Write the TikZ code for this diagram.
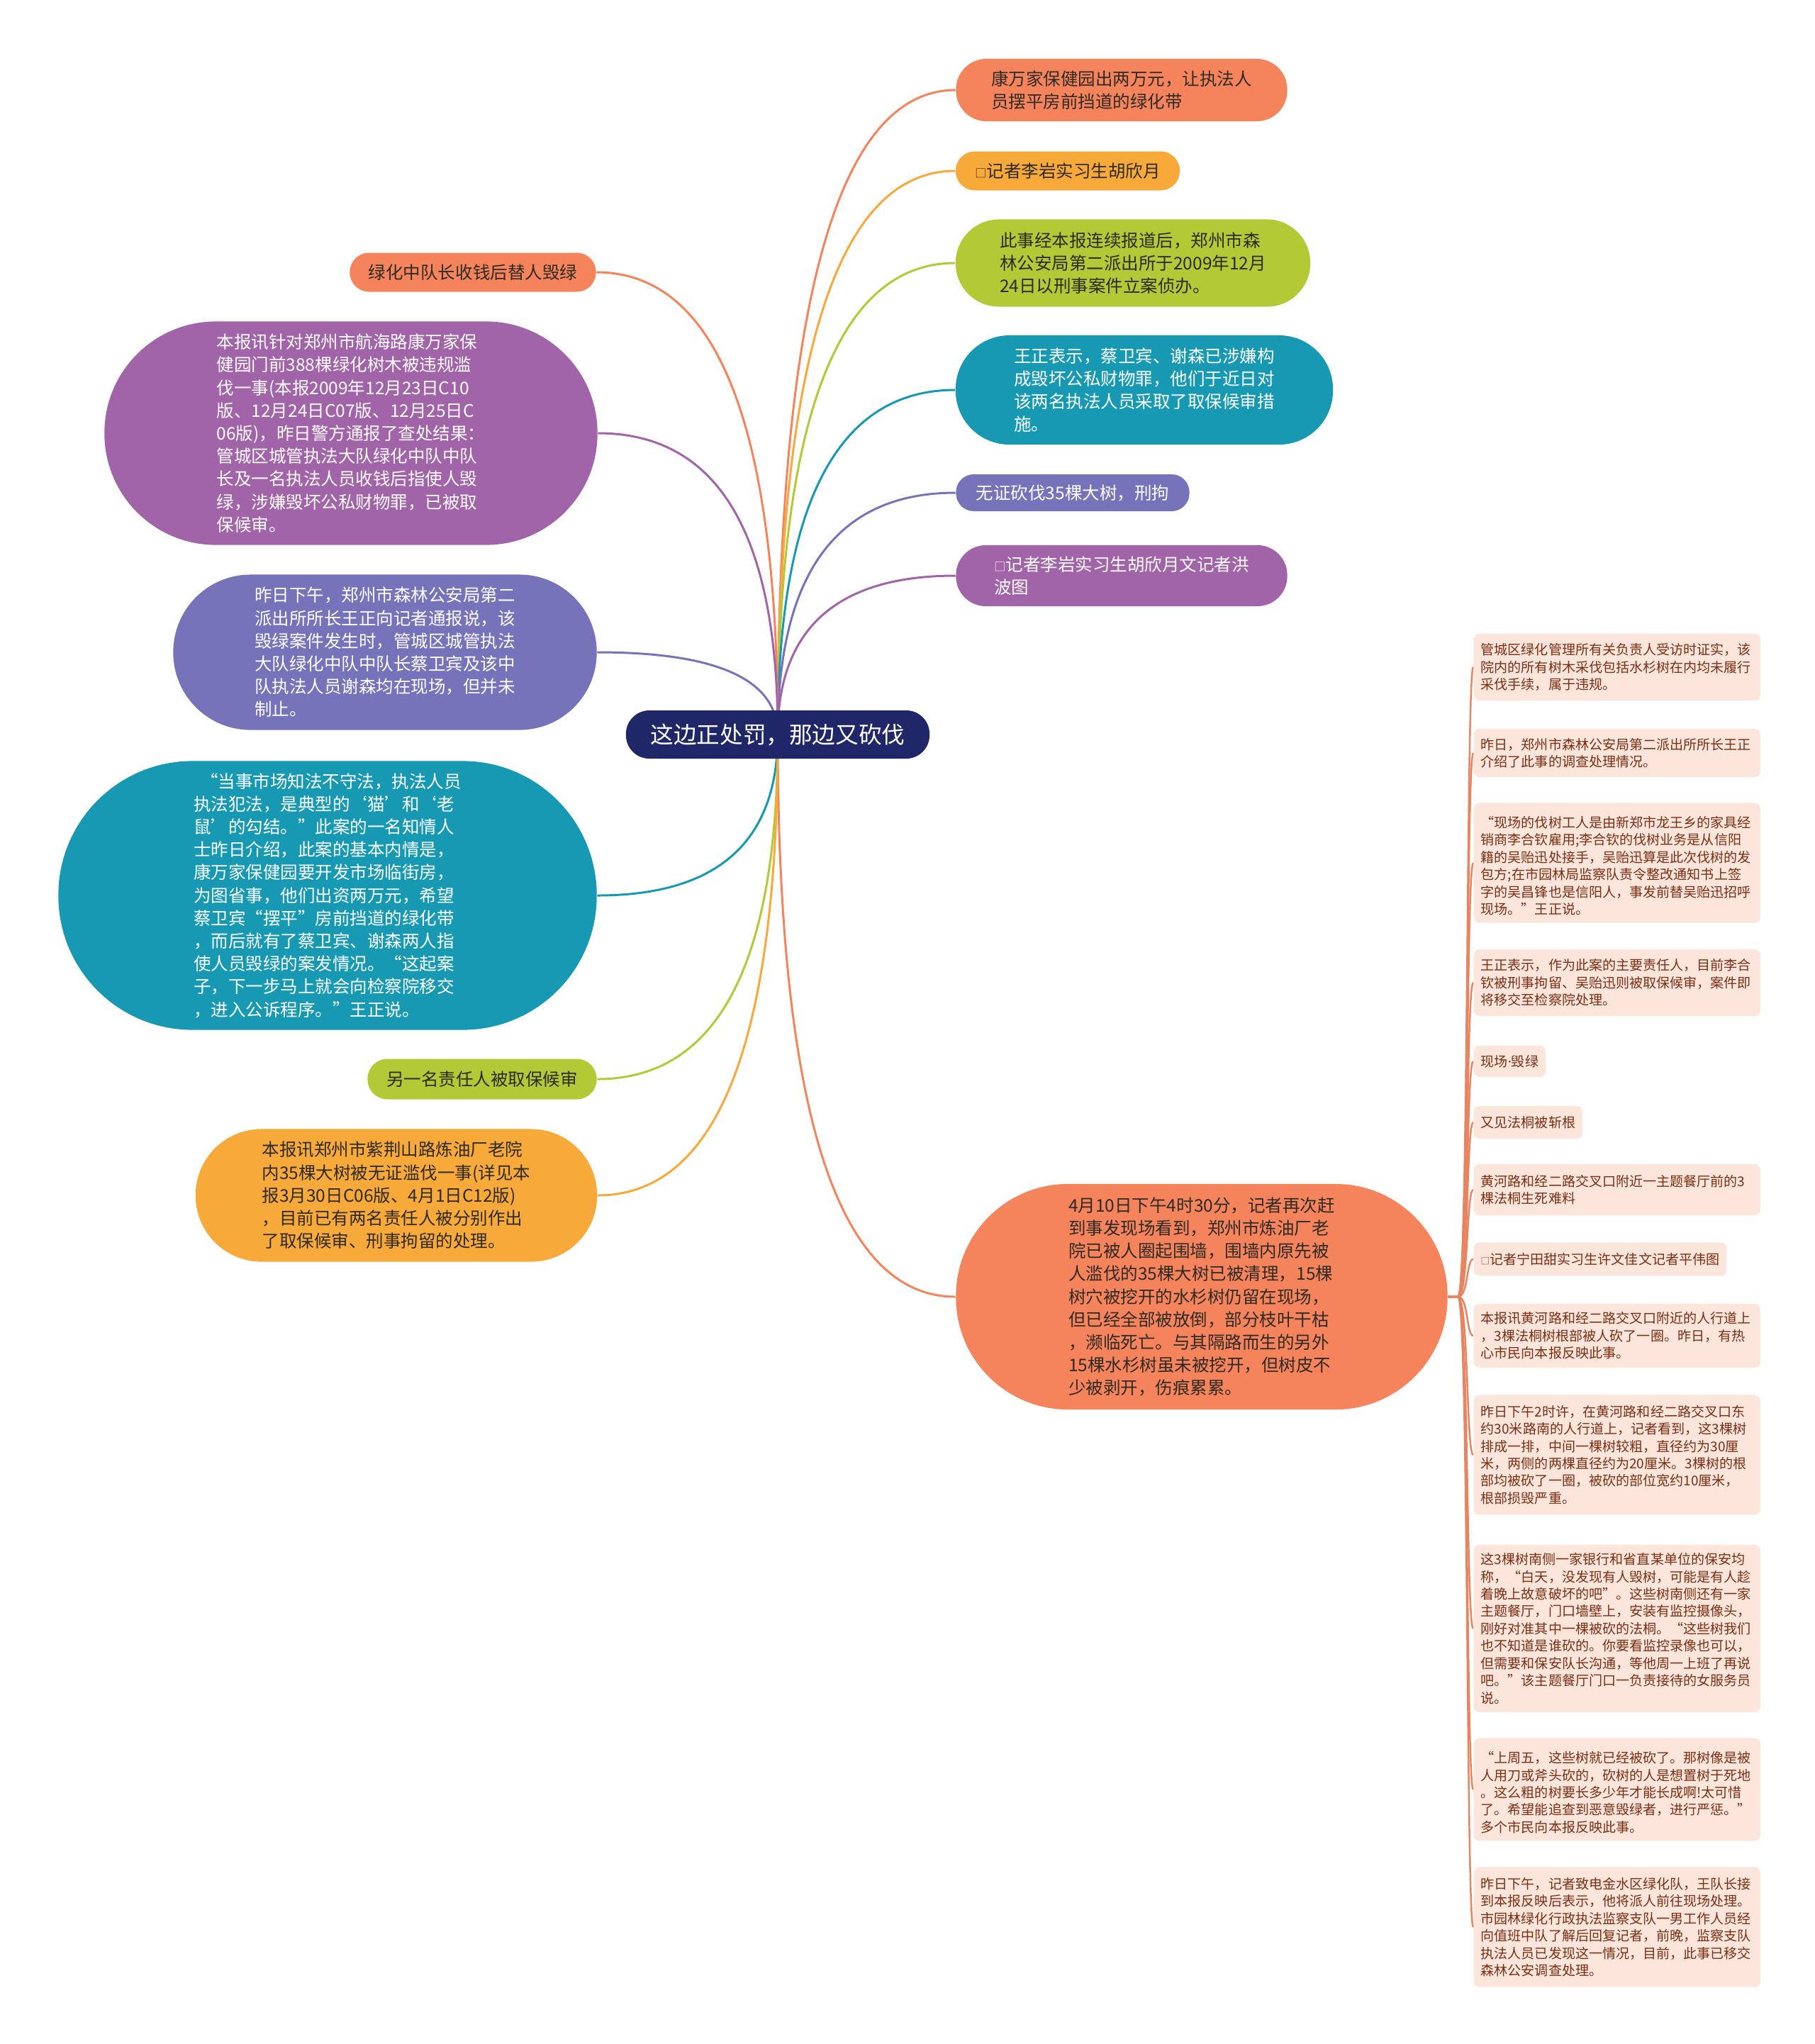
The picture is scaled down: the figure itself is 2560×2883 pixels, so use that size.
\documentclass[tikz,border=0pt]{standalone}
\usepackage{fontspec}
\setmainfont{Noto Sans CJK SC}
\newfontfamily\latinf{Noto Sans}
\usetikzlibrary{calc}
\definecolor{cOr}{HTML}{F5845C}
\definecolor{cYe}{HTML}{F7A93A}
\definecolor{cGr}{HTML}{B3C935}
\definecolor{cTe}{HTML}{1799B4}
\definecolor{cBp}{HTML}{7673BB}
\definecolor{cPu}{HTML}{A264A8}
\definecolor{cNv}{HTML}{202768}
\definecolor{cSub}{HTML}{FCE6DC}
\definecolor{cSubT}{HTML}{7A2E14}
\definecolor{cSubL}{HTML}{E8845F}
\definecolor{cDark}{HTML}{2E2A26}
\pgfdeclarelayer{bg}
\pgfsetlayers{bg,main}
\newcommand{\smallbox}{{\fontsize{4.6pt}{4.6pt}\selectfont □}}
\newcommand{\smallboxs}{{\fontsize{3.6pt}{3.6pt}\selectfont □}}
\newcommand{\qlinkR}[2]{\draw[conn,draw=#1] (o) .. controls ($(o)!0.667!(o|-#2.west)$) and ($(#2.west)!0.667!(o|-#2.west)$) .. (#2.west);}
\newcommand{\qlinkL}[2]{\draw[conn,draw=#1] (o) .. controls ($(o)!0.667!(o|-#2.east)$) and ($(#2.east)!0.667!(o|-#2.east)$) .. (#2.east);}
\newcommand{\slink}[1]{\draw[subconn] (n13.east) -- ($(n13.east)+(14,0)$) .. controls ($(n13.east)+(29,0)$) and ($(#1.west)+(-10,0)$) .. (#1.west);}
\tikzset{
  mn/.style n args={3}{minimum width=#1cm, minimum height=#2cm, rounded corners=#3cm,
    inner sep=0pt, align=left, font=\fontsize{6.97pt}{9.16pt}\selectfont},
  sb/.style={fill=cSub, text=cSubT, rounded corners=0.08cm, inner xsep=0.1cm, inner ysep=0pt,
    anchor=west, align=left, font=\fontsize{5.42pt}{6.95pt}\selectfont},
  sbw/.style={sb, text width=3.84cm},
  conn/.style={line width=0.85pt},
  subconn/.style={line width=0.7pt, draw=cSubL},
}
\begin{document}
\begin{tikzpicture}[x=0.01cm, y=-0.01cm]
\useasboundingbox (0,0) rectangle (2560,2883);

% root
\node[fill=cNv, text=white, minimum width=4.28cm, minimum height=0.68cm, rounded corners=0.33cm,
  inner sep=0pt, font=\fontsize{9.28pt}{11pt}\selectfont] (root) at (1097,1036) {这边正处罚，那边又砍伐};
\coordinate (o) at (1097,1036);

% right branches
\node[mn={4.67}{0.88}{0.43}, fill=cOr, text=cDark] (n1) at (1582,127)
  {康万家保健园出两万元，让执法人\\员摆平房前挡道的绿化带};
\node[mn={3.16}{0.55}{0.27}, fill=cYe, text=cDark] (n2) at (1506,241)
  {\smallbox 记者李岩实习生胡欣月};
\node[mn={5.00}{1.23}{0.61}, fill=cGr, text=cDark] (n3) at (1598,371)
  {此事经本报连续报道后，郑州市森\\林公安局第二派出所于2009年12月\\24日以刑事案件立案侦办。};
\node[mn={5.32}{1.54}{0.76}, fill=cTe, text=white] (n4) at (1614,550)
  {王正表示，蔡卫宾、谢森已涉嫌构\\成毁坏公私财物罪，他们于近日对\\该两名执法人员采取了取保候审措\\施。};
\node[mn={3.29}{0.52}{0.25}, fill=cBp, text=white] (n5) at (1513,695)
  {无证砍伐35棵大树，刑拘};
\node[mn={4.67}{0.86}{0.42}, fill=cPu, text=white] (n6) at (1582,812)
  {\smallbox 记者李岩实习生胡欣月文记者洪\\波图};

% left branches
\node[mn={3.47}{0.55}{0.27}, fill=cOr, text=cDark] (n7) at (667,384)
  {绿化中队长收钱后替人毁绿};
\node[mn={6.95}{3.15}{1.57}, fill=cPu, text=white] (n8) at (495,611)
  {本报讯针对郑州市航海路康万家保\\健园门前388棵绿化树木被违规滥\\伐一事(本报2009年12月23日C10\\版、12月24日C07版、12月25日C\\06版)，昨日警方通报了查处结果：\\管城区城管执法大队绿化中队中队\\长及一名执法人员收钱后指使人毁\\绿，涉嫌毁坏公私财物罪，已被取\\保候审。};
\node[mn={5.97}{2.19}{1.09}, fill=cBp, text=white] (n9) at (543,920)
  {昨日下午，郑州市森林公安局第二\\派出所所长王正向记者通报说，该\\毁绿案件发生时，管城区城管执法\\大队绿化中队中队长蔡卫宾及该中\\队执法人员谢森均在现场，但并未\\制止。};
\node[mn={7.59}{3.79}{1.89}, fill=cTe, text=white] (n10) at (462,1263)
  {\hspace{0.4em}“当事市场知法不守法，执法人员\\执法犯法，是典型的‘猫’和‘老\\鼠’的勾结。”此案的一名知情人\\士昨日介绍，此案的基本内情是，\\康万家保健园要开发市场临街房，\\为图省事，他们出资两万元，希望\\蔡卫宾“摆平”房前挡道的绿化带\\，而后就有了蔡卫宾、谢森两人指\\使人员毁绿的案发情况。“这起案\\子，下一步马上就会向检察院移交\\，进入公诉程序。”王正说。};
\node[mn={3.23}{0.57}{0.28}, fill=cGr, text=cDark] (n11) at (680,1522)
  {另一名责任人被取保候审};
\node[mn={5.66}{1.87}{0.93}, fill=cYe, text=cDark] (n12) at (559,1686)
  {本报讯郑州市紫荆山路炼油厂老院\\内35棵大树被无证滥伐一事(详见本\\报3月30日C06版、4月1日C12版)\\，目前已有两名责任人被分别作出\\了取保候审、刑事拘留的处理。};

% big right-bottom node
\node[mn={6.93}{3.18}{1.58}, fill=cOr, text=cDark] (n13) at (1695,1829)
  {4月10日下午4时30分，记者再次赶\\到事发现场看到，郑州市炼油厂老\\院已被人圈起围墙，围墙内原先被\\人滥伐的35棵大树已被清理，15棵\\树穴被挖开的水杉树仍留在现场，\\但已经全部被放倒，部分枝叶干枯\\，濒临死亡。与其隔路而生的另外\\15棵水杉树虽未被挖开，但树皮不\\少被剥开，伤痕累累。};

% sub nodes
\node[sbw, minimum height=0.94cm] (sa) at (2078,941)
  {管城区绿化管理所有关负责人受访时证实，该\\院内的所有树木采伐包括水杉树在内均未履行\\采伐手续，属于违规。};
\node[sbw, minimum height=0.68cm] (sb) at (2078,1062)
  {昨日，郑州市森林公安局第二派出所所长王正\\介绍了此事的调查处理情况。};
\node[sbw, minimum height=1.69cm] (sc) at (2078,1217)
  {\hspace{0.4em}“现场的伐树工人是由新郑市龙王乡的家具经\\销商李合钦雇用;李合钦的伐树业务是从信阳\\籍的吴贻迅处接手，吴贻迅算是此次伐树的发\\包方;在市园林局监察队责令整改通知书上签\\字的吴昌锋也是信阳人，事发前替吴贻迅招呼\\现场。”王正说。};
\node[sbw, minimum height=0.94cm] (sd) at (2078,1386)
  {王正表示，作为此案的主要责任人，目前李合\\钦被刑事拘留、吴贻迅则被取保候审，案件即\\将移交至检察院处理。};
\node[sb, minimum height=0.44cm] (se) at (2078,1497) {现场{\latinf ·}毁绿};
\node[sb, minimum height=0.46cm] (sf) at (2078,1583) {又见法桐被斩根};
\node[sbw, minimum height=0.72cm] (sg) at (2078,1678)
  {黄河路和经二路交叉口附近一主题餐厅前的3\\棵法桐生死难料};
\node[sb, minimum height=0.47cm] (sh) at (2078,1776) {\smallboxs 记者宁田甜实习生许文佳文记者平伟图};
\node[sbw, minimum height=0.90cm] (si) at (2078,1884)
  {本报讯黄河路和经二路交叉口附近的人行道上\\，3棵法桐树根部被人砍了一圈。昨日，有热\\心市民向本报反映此事。};
\node[sbw, minimum height=1.69cm] (sj) at (2078,2052)
  {昨日下午2时许，在黄河路和经二路交叉口东\\约30米路南的人行道上，记者看到，这3棵树\\排成一排，中间一棵树较粗，直径约为30厘\\米，两侧的两棵直径约为20厘米。3棵树的根\\部均被砍了一圈，被砍的部位宽约10厘米，\\根部损毁严重。};
\node[sbw, minimum height=2.36cm] (sk) at (2078,2297)
  {这3棵树南侧一家银行和省直某单位的保安均\\称，“白天，没发现有人毁树，可能是有人趁\\着晚上故意破坏的吧”。这些树南侧还有一家\\主题餐厅，门口墙壁上，安装有监控摄像头，\\刚好对准其中一棵被砍的法桐。“这些树我们\\也不知道是谁砍的。你要看监控录像也可以，\\但需要和保安队长沟通，等他周一上班了再说\\吧。”该主题餐厅门口一负责接待的女服务员\\说。};
\node[sbw, minimum height=1.45cm] (sl) at (2078,2524)
  {\hspace{0.4em}“上周五，这些树就已经被砍了。那树像是被\\人用刀或斧头砍的，砍树的人是想置树于死地\\。这么粗的树要长多少年才能长成啊!太可惜\\了。希望能追查到恶意毁绿者，进行严惩。”\\多个市民向本报反映此事。};
\node[sbw, minimum height=1.69cm] (sm) at (2078,2718)
  {昨日下午，记者致电金水区绿化队，王队长接\\到本报反映后表示，他将派人前往现场处理。\\市园林绿化行政执法监察支队一男工作人员经\\向值班中队了解后回复记者，前晚，监察支队\\执法人员已发现这一情况，目前，此事已移交\\森林公安调查处理。};

\begin{pgfonlayer}{bg}
\fill[white] (0,0) rectangle (2560,2883);
\qlinkR{cOr}{n1}
\qlinkR{cYe}{n2}
\qlinkR{cGr}{n3}
\qlinkR{cTe}{n4}
\qlinkR{cBp}{n5}
\qlinkR{cPu}{n6}
\qlinkR{cOr}{n13}
\qlinkL{cOr}{n7}
\qlinkL{cPu}{n8}
\qlinkL{cBp}{n9}
\qlinkL{cTe}{n10}
\qlinkL{cGr}{n11}
\qlinkL{cYe}{n12}
\slink{sa}\slink{sb}\slink{sc}\slink{sd}\slink{se}\slink{sf}\slink{sg}
\slink{sh}\slink{si}\slink{sj}\slink{sk}\slink{sl}\slink{sm}
\end{pgfonlayer}
\end{tikzpicture}
\end{document}
